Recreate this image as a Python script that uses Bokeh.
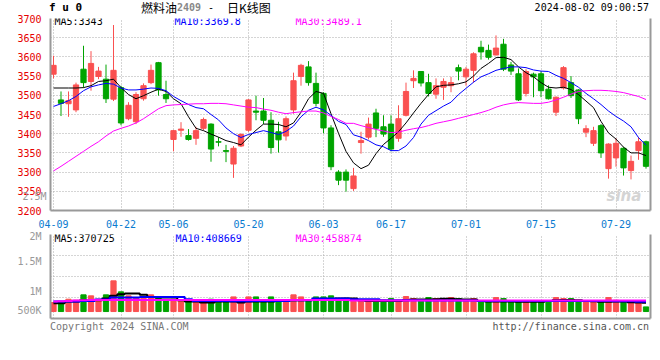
from bokeh.plotting import figure
from bokeh.models import ColumnDataSource, FixedTicker, Range1d, Label, LinearAxis, Div
from bokeh.layouts import column
from bokeh.embed import file_html
from bokeh.resources import INLINE

# ---------------- data ----------------
trading_days = {
    "04": [9, 10, 11, 12, 15, 16, 17, 18, 19, 22, 23, 24, 25, 26, 29, 30],
    "05": [6, 7, 8, 9, 10, 13, 14, 15, 16, 17, 20, 21, 22, 23, 24, 27, 28, 29, 30, 31],
    "06": [3, 4, 5, 6, 7, 11, 12, 13, 14, 17, 18, 19, 20, 21, 24, 25, 26, 27, 28],
    "07": [1, 2, 3, 4, 5, 8, 9, 10, 11, 12, 15, 16, 17, 18, 19, 22, 23, 24, 25, 26, 29, 30, 31],
    "08": [1, 2],
}
dates = [f"{m}-{d:02d}" for m, ds in trading_days.items() for d in ds]
date_ticks = ["04-09", "04-22", "05-06", "05-20", "06-03", "06-17", "07-01", "07-15", "07-29"]

opens = [3555, 3488, 3478, 3462, 3568, 3536, 3549, 3542, 3490, 3520,
         3439, 3431, 3491, 3533, 3585, 3502, 3385, 3409, 3395, 3388,
         3414, 3425, 3379, 3356, 3321, 3368, 3409, 3459, 3459, 3435,
         3405, 3394, 3462, 3549, 3574, 3531, 3505, 3415, 3300, 3300,
         3257, 3377, 3391, 3454, 3418, 3425, 3388, 3448, 3538, 3562,
         3533, 3503, 3521, 3525, 3572, 3548, 3565, 3625, 3617, 3605,
         3633, 3579, 3556, 3505, 3555, 3556, 3516, 3456, 3519, 3533,
         3514, 3404, 3375, 3421, 3309, 3337, 3362, 3304, 3356, 3379]
highs = [3603, 3510, 3510, 3533, 3629, 3615, 3574, 3580, 3683, 3525,
         3482, 3508, 3531, 3580, 3587, 3538, 3410, 3430, 3412, 3418,
         3442, 3427, 3391, 3371, 3368, 3401, 3490, 3499, 3493, 3456,
         3431, 3445, 3559, 3582, 3589, 3559, 3508, 3422, 3305, 3307,
         3311, 3405, 3442, 3465, 3448, 3448, 3474, 3533, 3565, 3563,
         3556, 3544, 3544, 3548, 3580, 3574, 3612, 3642, 3632, 3656,
         3647, 3587, 3570, 3568, 3559, 3563, 3526, 3497, 3576, 3550,
         3516, 3422, 3418, 3425, 3375, 3388, 3365, 3343, 3391, 3382]
lows = [3544, 3446, 3444, 3456, 3520, 3512, 3542, 3480, 3485, 3422,
        3435, 3425, 3486, 3529, 3499, 3480, 3354, 3392, 3382, 3371,
        3409, 3327, 3367, 3326, 3285, 3365, 3405, 3435, 3425, 3348,
        3351, 3382, 3452, 3525, 3525, 3471, 3401, 3305, 3266, 3249,
        3251, 3348, 3385, 3391, 3392, 3354, 3379, 3445, 3519, 3523,
        3497, 3491, 3488, 3508, 3539, 3525, 3533, 3593, 3593, 3604,
        3563, 3553, 3485, 3497, 3495, 3495, 3489, 3446, 3515, 3493,
        3425, 3391, 3368, 3337, 3283, 3314, 3291, 3281, 3332, 3309]
closes = [3578, 3479, 3486, 3527, 3533, 3583, 3563, 3491, 3565, 3428,
          3474, 3502, 3525, 3565, 3514, 3491, 3408, 3412, 3385, 3408,
          3437, 3360, 3378, 3354, 3362, 3398, 3488, 3456, 3435, 3364,
          3384, 3439, 3538, 3578, 3533, 3479, 3415, 3314, 3279, 3279,
          3290, 3382, 3425, 3414, 3399, 3360, 3439, 3510, 3544, 3532,
          3505, 3525, 3536, 3533, 3563, 3568, 3608, 3613, 3599, 3623,
          3568, 3563, 3488, 3562, 3548, 3512, 3491, 3495, 3572, 3499,
          3439, 3413, 3408, 3350, 3373, 3375, 3311, 3328, 3379, 3315]

ma5 = [3519, 3519, 3519, 3519, 3520, 3525, 3536, 3538, 3542, 3520,
       3502, 3491, 3499, 3508, 3516, 3510, 3491, 3478, 3444, 3414,
       3408, 3399, 3391, 3382, 3377, 3371, 3391, 3409, 3425, 3425,
       3424, 3418, 3428, 3456, 3491, 3510, 3505, 3452, 3401, 3354,
       3324, 3309, 3318, 3348, 3372, 3388, 3405, 3428, 3454, 3479,
       3502, 3522, 3526, 3527, 3530, 3535, 3550, 3570, 3583, 3598,
       3599, 3593, 3574, 3559, 3548, 3533, 3521, 3519, 3521, 3515,
       3502, 3485, 3468, 3432, 3402, 3386, 3365, 3350, 3350, 3343]
ma10 = [3471, 3478, 3486, 3497, 3512, 3522, 3527, 3531, 3529, 3519,
        3514, 3514, 3516, 3519, 3518, 3512, 3497, 3486, 3476, 3468,
        3465, 3450, 3436, 3415, 3400, 3390, 3398, 3403, 3408, 3403,
        3398, 3406, 3420, 3444, 3461, 3469, 3462, 3448, 3432, 3424,
        3397, 3391, 3382, 3371, 3366, 3356, 3356, 3368, 3390, 3425,
        3448, 3460, 3472, 3482, 3502, 3518, 3534, 3548, 3556, 3565,
        3570, 3574, 3574, 3572, 3566, 3563, 3562, 3552, 3544, 3533,
        3521, 3505, 3491, 3476, 3459, 3445, 3433, 3418, 3390, 3370]
ma30 = [3303, 3315, 3328, 3341, 3354, 3367, 3379, 3394, 3407, 3414,
        3420, 3428, 3439, 3452, 3465, 3473, 3475, 3476, 3477, 3478,
        3478, 3479, 3479, 3478, 3475, 3472, 3469, 3468, 3464, 3461,
        3456, 3452, 3455, 3457, 3459, 3459, 3454, 3445, 3437, 3427,
        3427, 3421, 3416, 3411, 3407, 3403, 3404, 3409, 3413, 3416,
        3421, 3427, 3431, 3435, 3440, 3445, 3450, 3455, 3461, 3469,
        3475, 3479, 3481, 3480, 3479, 3479, 3482, 3488, 3495, 3503,
        3510, 3512, 3513, 3513, 3512, 3510, 3507, 3502, 3497, 3489]

volumes = [375000, 375000, 514000, 472000, 695000, 653000, 514000, 695000, 1278000, 820000,
           653000, 583000, 556000, 695000, 583000, 472000, 514000, 472000, 417000, 417000,
           417000, 514000, 444000, 444000, 611000, 444000, 611000, 611000, 472000, 611000,
           472000, 472000, 695000, 611000, 472000, 611000, 611000, 653000, 514000, 556000,
           472000, 472000, 472000, 472000, 472000, 542000, 472000, 625000, 542000, 444000,
           583000, 542000, 542000, 583000, 542000, 472000, 542000, 417000, 417000, 583000,
           542000, 417000, 417000, 417000, 417000, 417000, 417000, 583000, 542000, 542000,
           417000, 417000, 417000, 417000, 583000, 472000, 417000, 417000, 417000, 194000]
vol_ma5 = [347000, 347000, 417000, 417000, 472000, 472000, 472000, 542000, 653000, 722000,
           750000, 750000, 695000, 611000, 583000, 583000, 583000, 472000, 417000, 417000,
           375000, 375000, 417000, 417000, 417000, 375000, 417000, 417000, 417000, 417000,
           444000, 444000, 472000, 472000, 472000, 514000, 514000, 514000, 542000, 542000,
           542000, 472000, 444000, 444000, 444000, 444000, 444000, 472000, 500000, 500000,
           500000, 514000, 528000, 528000, 514000, 500000, 500000, 444000, 417000, 417000,
           417000, 417000, 403000, 403000, 403000, 403000, 444000, 472000, 486000, 486000,
           472000, 444000, 431000, 403000, 403000, 417000, 417000, 389000, 375000, 370725]
vol_ma10 = [417000, 417000, 417000, 417000, 444000, 444000, 500000, 500000, 583000, 583000,
            583000, 583000, 611000, 611000, 611000, 611000, 611000, 611000, 514000, 444000,
            444000, 444000, 444000, 444000, 431000, 431000, 431000, 444000, 444000, 444000,
            444000, 444000, 472000, 472000, 472000, 542000, 542000, 542000, 542000, 542000,
            514000, 514000, 514000, 514000, 472000, 472000, 472000, 472000, 472000, 472000,
            458000, 458000, 458000, 458000, 458000, 458000, 458000, 444000, 444000, 444000,
            444000, 444000, 444000, 444000, 444000, 444000, 444000, 444000, 444000, 444000,
            444000, 444000, 444000, 444000, 444000, 431000, 431000, 431000, 408669, 408669]
vol_ma30 = [417000, 431000, 444000, 458000, 472000, 486000, 486000, 486000, 486000, 486000,
            486000, 486000, 486000, 486000, 486000, 486000, 486000, 486000, 486000, 486000,
            486000, 486000, 486000, 486000, 486000, 486000, 486000, 486000, 486000, 486000,
            486000, 486000, 486000, 486000, 486000, 486000, 486000, 486000, 486000, 486000,
            458000, 458000, 458000, 458000, 458000, 458000, 458000, 458000, 458000, 458000,
            458000, 458000, 458000, 458000, 458000, 458000, 458000, 458000, 458000, 458000,
            458874, 458874, 458874, 458874, 458874, 458874, 458874, 458874, 458874, 458874,
            458874, 458874, 458874, 458874, 458874, 458874, 458874, 458874, 458874, 458874]

price_ticks = [3200, 3250, 3300, 3350, 3400, 3450, 3500, 3550, 3600, 3650, 3700]
vol_axis_labels = ["500K", "1M", "1.5M", "2M"]
vol_axis_at = [40000, 830000, 2080000, 3200000]
stray_vol_label = "2.5M"          # Sina draws it inside the price axis column
stray_vol_label_at = 3236          # on the price scale

legend_price = ["MA5:3343", "MA10:3369.8", "MA30:3489.1"]
legend_vol = ["MA5:370725", "MA10:408669", "MA30:458874"]
symbol = "f u 0"
title_name, title_code, title_sep, title_kind = "燃料油", "2409", "-", "日K线图"
stamp = "2024-08-02 09:00:57"
footer_left = "Copyright 2024 SINA.COM"
footer_right = "http://finance.sina.com.cn"

# ---------------- styles ----------------
MONO = "DejaVu Sans Mono"
CJK = "Noto Sans CJK SC"
RED = "#fa5050"
GREEN = "#00a400"
BORDER = "#999999"
GRID = "#aaaaaa"
MA_COLORS = ["#000000", "#0000ff", "#ff00ff"]

x = list(range(len(dates)))
colors = [RED if c >= o else GREEN for o, c in zip(opens, closes)]
src = ColumnDataSource(dict(
    x=x, high=highs, low=lows,
    top=[max(o, c) for o, c in zip(opens, closes)],
    bottom=[min(o, c) for o, c in zip(opens, closes)],
    color=colors, volume=volumes))

tick_idx = [dates.index(d) for d in date_ticks]
xr = Range1d(-0.4, len(dates) - 0.4)


def style_common(fig):
    fig.outline_line_color = None
    fig.background_fill_color = "white"
    fig.border_fill_color = "white"
    fig.xgrid.ticker = FixedTicker(ticks=tick_idx)
    for ax in (fig.xaxis[0], fig.yaxis[0]):
        ax.axis_line_color = BORDER
        ax.axis_line_width = 2
        ax.major_tick_line_color = None
        ax.minor_tick_line_color = None
        ax.major_label_text_font = MONO
        ax.major_label_text_font_size = "10px"
        ax.major_label_standoff = 3
    fig.grid.grid_line_color = GRID
    fig.grid.grid_line_dash = "1 2"
    fig.grid.grid_line_width = 1


def add_right_border(fig):
    ra = LinearAxis(ticker=FixedTicker(ticks=[]), axis_line_color=BORDER, axis_line_width=2,
                    major_tick_line_color=None, minor_tick_line_color=None,
                    major_label_standoff=0)
    fig.add_layout(ra, "right")


def lbl(fig, xx, yy, text, color="#000000", size="10px", font=MONO, align="left", style="normal"):
    fig.add_layout(Label(x=xx, y=yy, x_units="screen", y_units="screen", text=text,
                         text_color=color, text_font=font, text_font_size=size,
                         text_align=align, text_baseline="middle", text_font_style=style))


def span(text, pos, color="#000", font=MONO, size=10, weight="normal", top=0, lh=13):
    return (f'<span style="position:absolute;{pos};top:{top}px;color:{color};'
            f"font-family:'{font}';font-size:{size}px;font-weight:{weight};"
            f'line-height:{lh}px;white-space:nowrap">{text}</span>')


# ---------------- header ----------------
header_html = ('<div style="position:relative;width:652px;height:13px;overflow:visible">'
               + span(symbol, "left:49px", size=11, weight="bold", top=1)
               + span(title_name, "left:141px", font=CJK, size=12, top=1)
               + span(title_code, "left:177px", color="#888888", weight="bold", top=1)
               + span(title_sep, "left:208px", top=1)
               + span(title_kind, "left:227px", font=CJK, size=12, top=1)
               + span(stamp, "right:3px", top=1)
               + '</div>')
header = Div(text=header_html, width=652, height=13, margin=(0, 0, 0, 0))

# ---------------- price panel ----------------
p = figure(width=652, height=217, x_range=xr, y_range=Range1d(3200, 3700),
           output_backend="svg", toolbar_location=None,
           min_border_left=50, min_border_right=2, min_border_top=5, min_border_bottom=17)
style_common(p)
p.xaxis[0].ticker = FixedTicker(ticks=tick_idx)
p.yaxis[0].ticker = FixedTicker(ticks=price_ticks)
p.ygrid.ticker = FixedTicker(ticks=price_ticks)
p.yaxis[0].major_label_text_color = "#e60000"
p.xaxis[0].major_label_overrides = {i: d for i, d in zip(tick_idx, date_ticks)}
p.xaxis[0].major_label_text_color = "#0a7bd0"
add_right_border(p)
stray = LinearAxis(ticker=FixedTicker(ticks=[stray_vol_label_at]),
                   major_label_overrides={stray_vol_label_at: stray_vol_label},
                   axis_line_color=None, major_tick_line_color=None, minor_tick_line_color=None,
                   major_label_text_color=BORDER, major_label_text_font=MONO,
                   major_label_text_font_size="10px", major_label_standoff=-38)
p.add_layout(stray, "left")

p.segment(x0="x", y0="low", x1="x", y1="high", color="color", line_width=1, source=src)
p.vbar(x="x", width=0.7, top="top", bottom="bottom", fill_color="color",
       line_color="color", line_width=1, source=src)
for series, col in zip((ma5, ma10, ma30), MA_COLORS):
    p.line(x, series, color=col, line_width=1)

for xx, t, col in zip((4, 124, 245), legend_price, MA_COLORS):
    lbl(p, xx, 189, t, color=col)
lbl(p, 556, 15, "sina", color="#d4d4d4", size="15px", font="DejaVu Sans", style="bold italic")

# ---------------- volume panel ----------------
vy0, vy1 = -290000, 3210000
p2 = figure(width=652, height=90, x_range=xr, y_range=Range1d(vy0, vy1),
            output_backend="svg", toolbar_location=None,
            min_border_left=50, min_border_right=2, min_border_top=4, min_border_bottom=2)
style_common(p2)
p2.xaxis[0].ticker = FixedTicker(ticks=[])
p2.yaxis[0].ticker = FixedTicker(ticks=vol_axis_at)
p2.yaxis[0].major_label_overrides = {v: t for v, t in zip(vol_axis_at, vol_axis_labels)}
p2.yaxis[0].major_label_text_color = BORDER
p2.ygrid.ticker = FixedTicker(ticks=[vy0 + (vy1 - vy0) * k / 4 for k in (1, 2, 3, 4)])
add_right_border(p2)

p2.vbar(x="x", width=0.7, top="volume", bottom=0, fill_color="color",
        line_color="color", line_width=1, source=src)
for series, col in zip((vol_ma5, vol_ma10, vol_ma30), MA_COLORS):
    p2.step(x, series, mode="center", color=col, line_width=2)

for xx, t, col in zip((4, 125, 245), legend_vol, MA_COLORS):
    lbl(p2, xx, 80, t, color=col)

# ---------------- footer ----------------
footer_html = ('<div style="position:relative;width:652px;height:14px;overflow:visible">'
               + span(footer_left, "left:50px", color="#777777", lh=14)
               + span(footer_right, "right:3px", color="#555555", lh=14)
               + '</div>')
footer = Div(text=footer_html, width=652, height=14, margin=(0, 0, 0, 0))

layout = column(header, p, p2, footer, spacing=0)
open("out.html", "w").write(file_html(layout, INLINE))
